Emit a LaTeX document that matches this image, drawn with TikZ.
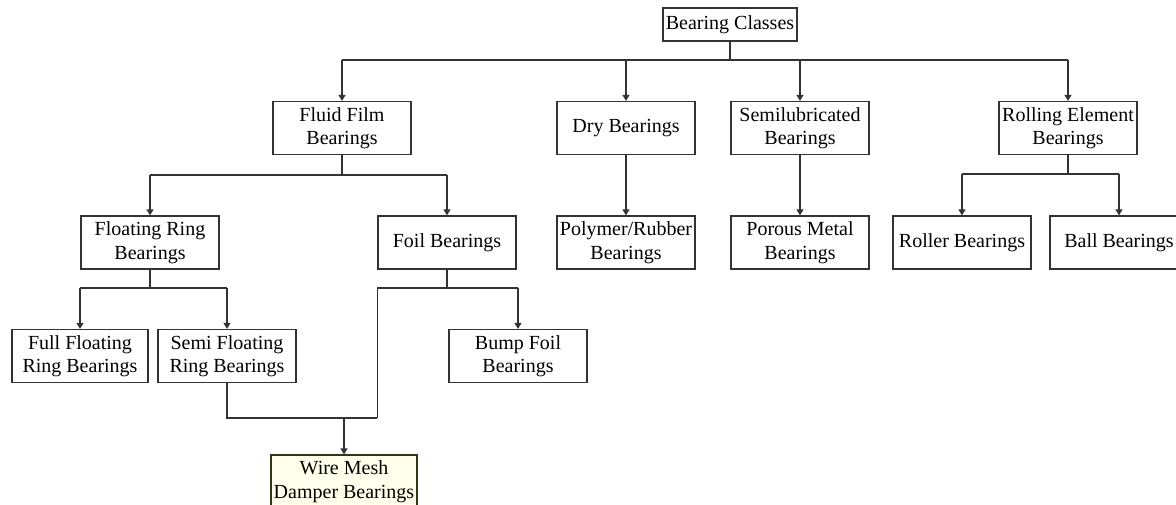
\documentclass[tikz,border=0pt]{standalone}
\usepackage{fontspec}
\setmainfont{Liberation Serif}
\usetikzlibrary{arrows.meta,calc}
\begin{document}
\begin{tikzpicture}[x=1pt,y=-1pt,
  box/.style={draw=black!80, line width=1.3pt, minimum width=138pt, minimum height=53pt, inner sep=2pt, align=center, font=\fontsize{20}{23.5}\selectfont},
  conn/.style={draw=black!80, line width=1.3pt},
  arr/.style={conn, -{Triangle[width=7pt,length=6pt]}}]
\clip (0,0) rectangle (1176,504);
\fill[white] (0,0) rectangle (1176,504);
% nodes
\node[box, minimum width=134pt, minimum height=33pt] (classes) at (730,24.5) {Bearing Classes};
\node[box] (fluid) at (342,128) {Fluid Film\\Bearings};
\node[box] (dry) at (626,128) {Dry Bearings};
\node[box] (semi) at (800,128) {Semilubricated\\Bearings};
\node[box] (rolling) at (1068,128) {Rolling Element\\Bearings};
\node[box] (floating) at (150,242.5) {Floating Ring\\Bearings};
\node[box] (foil) at (447,242.5) {Foil Bearings};
\node[box] (polymer) at (626,242.5) {Polymer/Rubber\\Bearings};
\node[box] (porous) at (800,242.5) {Porous Metal\\Bearings};
\node[box] (roller) at (962,242.5) {Roller Bearings};
\node[box] (ball) at (1119,242.5) {Ball Bearings};
\node[box, minimum width=136pt] (full) at (80,356) {Full Floating\\Ring Bearings};
\node[box] (semifl) at (227,356) {Semi Floating\\Ring Bearings};
\node[box] (bump) at (518,356) {Bump Foil\\Bearings};
\node[box, minimum width=146pt, draw={rgb,255:red,50;green,55;blue,25}, fill={rgb,255:red,255;green,255;blue,236}] (wire) at (344,481.5) {Wire Mesh\\Damper Bearings};
% bus levels
\coordinate (bus1) at (0,60);
\coordinate (bus2) at (0,175);
\coordinate (bus3) at (0,288);
\coordinate (bus4) at (0,174);
\coordinate (bus5) at (0,418);
% level 1
\draw[conn] (classes.south) -- (classes.south |- bus1);
\draw[conn] (fluid.north |- bus1) -- (rolling.north |- bus1);
\foreach \n in {fluid,dry,semi,rolling}
  \draw[arr] (\n.north |- bus1) -- (\n.north);
% fluid film
\draw[conn] (fluid.south) -- (fluid.south |- bus2);
\draw[conn] (floating.north |- bus2) -- (foil.north |- bus2);
\draw[arr] (floating.north |- bus2) -- (floating.north);
\draw[arr] (foil.north |- bus2) -- (foil.north);
% dry, semilubricated
\draw[arr] (dry.south) -- (polymer.north);
\draw[arr] (semi.south) -- (porous.north);
% rolling
\draw[conn] (rolling.south) -- (rolling.south |- bus4);
\draw[conn] (roller.north |- bus4) -- (ball.north |- bus4);
\draw[arr] (roller.north |- bus4) -- (roller.north);
\draw[arr] (ball.north |- bus4) -- (ball.north);
% floating ring
\draw[conn] (floating.south) -- (floating.south |- bus3);
\draw[conn] (full.north |- bus3) -- (semifl.north |- bus3);
\draw[arr] (full.north |- bus3) -- (full.north);
\draw[arr] (semifl.north |- bus3) -- (semifl.north);
% foil
\draw[conn] (foil.south) -- (foil.south |- bus3);
\draw[conn] (foil.south west |- bus5) -- (foil.south west |- bus3) -- (bump.north |- bus3);
\draw[arr] (bump.north |- bus3) -- (bump.north);
% wire mesh
\draw[conn] (semifl.south) -- (semifl.south |- bus5) -- (foil.south west |- bus5);
\draw[arr] (wire.north |- bus5) -- (wire.north);
\end{tikzpicture}
\end{document}
